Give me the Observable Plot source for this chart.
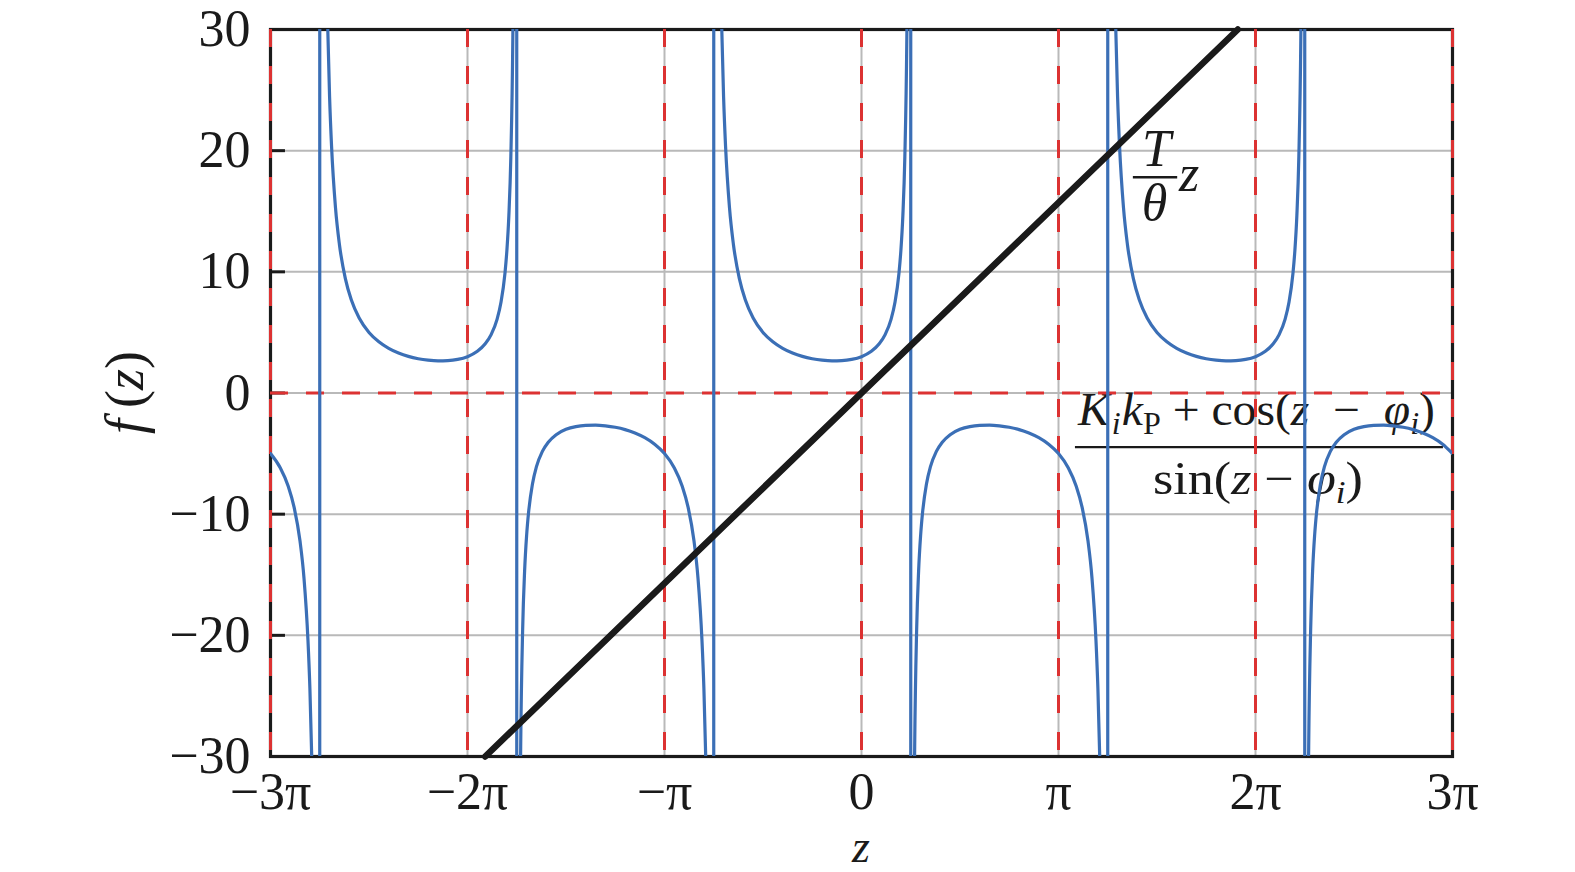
<!DOCTYPE html>
<html>
<head>
<meta charset="utf-8">
<script src="https://cdn.jsdelivr.net/npm/d3@7"></script>
<script src="https://cdn.jsdelivr.net/npm/@observablehq/plot@0.6"></script>
<style>
  html, body { margin: 0; padding: 0; background: #fff; }
  #chart svg { display: block; }
</style>
</head>
<body>
<div id="chart"></div>
<script>
// ---- data (z in units of π) ----
const xTicks = [-3, -2, -1, 0, 1, 2, 3];
const xTickLabels = ["−3π", "−2π", "−π", "0", "π", "2π", "3π"];
const yTicks = [-30, -20, -10, 0, 10, 20, 30];
const yTickLabels = ["−30", "−20", "−10", "0", "10", "20", "30"];

// blue curve f(z) (values beyond ±30 are clipped; ±2000 marks the jump at each pole)
const curveZ = [
  -3.00, -2.95, -2.91, -2.88, -2.85, -2.83, -2.81, -2.80, -2.79, -2.78, -2.77,
  -2.751, -2.749,
  -2.73, -2.72, -2.71, -2.70, -2.69, -2.67, -2.65, -2.62, -2.59, -2.55, -2.50, -2.45, -2.40, -2.35, -2.30, -2.25,
  -2.20, -2.15, -2.10, -2.05, -2.00, -1.95, -1.91, -1.88, -1.85, -1.83, -1.81, -1.80, -1.79, -1.78, -1.77, -1.765, -1.76,
  -1.751, -1.749,
  -1.74, -1.735, -1.73, -1.72, -1.71, -1.70, -1.69, -1.67, -1.65, -1.62, -1.59, -1.55, -1.50, -1.45, -1.40, -1.35,
  -1.30, -1.25, -1.20, -1.15, -1.10, -1.05, -1.00, -0.95, -0.91, -0.88, -0.85, -0.83, -0.81, -0.80, -0.79, -0.78, -0.77,
  -0.751, -0.749,
  -0.73, -0.72, -0.71, -0.70, -0.69, -0.67, -0.65, -0.62, -0.59, -0.55, -0.50, -0.45, -0.40, -0.35, -0.30, -0.25,
  -0.20, -0.15, -0.10, -0.05, 0.00, 0.05, 0.09, 0.12, 0.15, 0.17, 0.19, 0.20, 0.21, 0.22, 0.23, 0.235, 0.24,
  0.249, 0.251,
  0.26, 0.265, 0.27, 0.28, 0.29, 0.30, 0.31, 0.33, 0.35, 0.38, 0.41, 0.45, 0.50, 0.55, 0.60, 0.65,
  0.70, 0.75, 0.80, 0.85, 0.90, 0.95, 1.00, 1.05, 1.09, 1.12, 1.15, 1.17, 1.19, 1.20, 1.21, 1.22, 1.23,
  1.249, 1.251,
  1.27, 1.28, 1.29, 1.30, 1.31, 1.33, 1.35, 1.38, 1.41, 1.45, 1.50, 1.55, 1.60, 1.65, 1.70, 1.75,
  1.80, 1.85, 1.90, 1.95, 2.00, 2.05, 2.09, 2.12, 2.15, 2.17, 2.19, 2.20, 2.21, 2.22, 2.23, 2.235, 2.24,
  2.249, 2.251,
  2.26, 2.265, 2.27, 2.28, 2.29, 2.30, 2.31, 2.33, 2.35, 2.38, 2.41, 2.45, 2.50, 2.55, 2.60, 2.65,
  2.70, 2.75, 2.80, 2.85, 2.90, 2.95, 3.00
];
const curveF = [
  -5.00, -6.19, -7.69, -9.44, -12.24, -15.27, -20.35, -24.40, -30.50, -40.65, -60.97,
  -2000, 2000,
  60.97, 40.65, 30.50, 24.40, 20.35, 15.27, 12.24, 9.44, 7.69, 6.19, 5.00, 4.23, 3.69, 3.30, 3.02, 2.83,
  2.71, 2.65, 2.67, 2.77, 3.00, 3.44, 4.06, 4.82, 6.08, 7.49, 9.86, 11.78, 14.66, 19.49, 29.18, 38.87, 58.28,
  2000, -2000,
  -58.28, -38.87, -29.18, -19.49, -14.66, -11.78, -9.86, -7.49, -6.08, -4.82, -4.06, -3.44, -3.00, -2.77, -2.67, -2.65,
  -2.71, -2.83, -3.02, -3.30, -3.69, -4.23, -5.00, -6.19, -7.69, -9.44, -12.24, -15.27, -20.35, -24.40, -30.50, -40.65, -60.97,
  -2000, 2000,
  60.97, 40.65, 30.50, 24.40, 20.35, 15.27, 12.24, 9.44, 7.69, 6.19, 5.00, 4.23, 3.69, 3.30, 3.02, 2.83,
  2.71, 2.65, 2.67, 2.77, 3.00, 3.44, 4.06, 4.82, 6.08, 7.49, 9.86, 11.78, 14.66, 19.49, 29.18, 38.87, 58.28,
  2000, -2000,
  -58.28, -38.87, -29.18, -19.49, -14.66, -11.78, -9.86, -7.49, -6.08, -4.82, -4.06, -3.44, -3.00, -2.77, -2.67, -2.65,
  -2.71, -2.83, -3.02, -3.30, -3.69, -4.23, -5.00, -6.19, -7.69, -9.44, -12.24, -15.27, -20.35, -24.40, -30.50, -40.65, -60.97,
  -2000, 2000,
  60.97, 40.65, 30.50, 24.40, 20.35, 15.27, 12.24, 9.44, 7.69, 6.19, 5.00, 4.23, 3.69, 3.30, 3.02, 2.83,
  2.71, 2.65, 2.67, 2.77, 3.00, 3.44, 4.06, 4.82, 6.08, 7.49, 9.86, 11.78, 14.66, 19.49, 29.18, 38.87, 58.28,
  2000, -2000,
  -58.28, -38.87, -29.18, -19.49, -14.66, -11.78, -9.86, -7.49, -6.08, -4.82, -4.06, -3.44, -3.00, -2.77, -2.67, -2.65,
  -2.71, -2.83, -3.02, -3.30, -3.69, -4.23, -5.00
];

// black straight line (T/θ)·z
const lineZ = [-1.91, 1.91];
const lineF = [-30, 30];

// red dashed reference lines
const refZ = [-3, -2, -1, 0, 1, 2, 3];
const refF = [0];

const curve = curveZ.map((z, i) => ({z, f: curveF[i]}));
const line = lineZ.map((z, i) => ({z, f: lineF[i]}));

const FONT = '"Liberation Serif", "Times New Roman", Times, serif';
const BLUE = "#3b6fb6", RED = "#dc3232", GRID = "#b9b9b9", INK = "#1a1a1a";

function annotations(index, scales, values, dims) {
  const X = scales.x, Y = scales.y;
  const g = d3.create("svg:g").attr("font-family", FONT).attr("fill", INK).style("white-space", "pre");

  // axis titles
  g.append("text").attr("x", X(0)).attr("y", dims.height - dims.marginBottom + 106)
    .attr("text-anchor", "middle").attr("font-size", 46).attr("font-style", "italic").text("z");
  const yl = g.append("text")
    .attr("transform", `translate(${dims.marginLeft - 143},${(Y(30) + Y(-30)) / 2}) rotate(-90)`)
    .attr("text-anchor", "middle").attr("dy", "0.3em").attr("font-size", 54);
  yl.append("tspan").attr("font-style", "italic").text("f");
  yl.append("tspan").text("\u2009(");
  yl.append("tspan").attr("font-style", "italic").text("z");
  yl.append("tspan").text(")");

  // T/θ z
  g.append("text").attr("x", X(1.50)).attr("y", Y(18.67)).attr("text-anchor", "middle")
    .attr("font-size", 52).attr("font-style", "italic").text("T");
  g.append("line").attr("x1", X(1.38)).attr("x2", X(1.605)).attr("y1", Y(17.77)).attr("y2", Y(17.77))
    .attr("stroke", INK).attr("stroke-width", 2.5);
  g.append("text").attr("x", X(1.49)).attr("y", Y(14.2)).attr("text-anchor", "middle")
    .attr("font-size", 52).attr("font-style", "italic").text("θ");
  g.append("text").attr("x", X(1.665)).attr("y", Y(16.6))
    .attr("font-size", 52).attr("font-style", "italic").text("z");

  // big fraction
  g.append("line").attr("x1", X(1.086)).attr("x2", X(2.954)).attr("y1", Y(-4.5)).attr("y2", Y(-4.5))
    .attr("stroke", INK).attr("stroke-width", 2.3);
  const num = g.append("text").attr("class", "fit").attr("x", X(1.096)).attr("y", Y(-2.69))
    .attr("data-x0", X(1.096)).attr("data-x1", X(2.914)).attr("font-size", 46);
  num.append("tspan").attr("font-style", "italic").text("K");
  num.append("tspan").attr("font-style", "italic").attr("font-size", 31).attr("dy", 9).attr("dx", 2).text("i");
  num.append("tspan").attr("font-style", "italic").attr("dy", -9).attr("dx", 1).text("k");
  num.append("tspan").attr("font-size", 31).attr("dy", 9).text("P");
  num.append("tspan").attr("dy", -9).text(" + cos(");
  num.append("tspan").attr("font-style", "italic").text("z");
  num.append("tspan").text("  −  ");
  num.append("tspan").attr("font-style", "italic").text("φ");
  num.append("tspan").attr("font-style", "italic").attr("font-size", 31).attr("dy", 9).text("i");
  num.append("tspan").attr("dy", -9).text(")");

  const den = g.append("text").attr("class", "fit").attr("x", X(1.482)).attr("y", Y(-8.37))
    .attr("data-x0", X(1.482)).attr("data-x1", X(2.548)).attr("font-size", 46);
  den.append("tspan").text("sin(");
  den.append("tspan").attr("font-style", "italic").text("z");
  den.append("tspan").text(" − ");
  den.append("tspan").attr("font-style", "italic").text("φ");
  den.append("tspan").attr("font-style", "italic").attr("font-size", 31).attr("dy", 9).text("i");
  den.append("tspan").attr("dy", -9).text(")");

  return g.node();
}

const plot = Plot.plot({
  width: 1575,
  height: 872,
  marginLeft: 270,
  marginRight: 123,
  marginTop: 29,
  marginBottom: 116,
  style: {fontFamily: FONT, fontSize: "52px", color: INK, background: "#fff", overflow: "visible"},
  x: {domain: [-3, 3], ticks: xTicks, tickFormat: d => xTickLabels[xTicks.indexOf(d)], tickSize: 0, tickPadding: 16, label: null},
  y: {domain: [-30, 30], ticks: yTicks, tickFormat: d => yTickLabels[yTicks.indexOf(d)], tickSize: 0, tickPadding: 20, label: null},
  marks: [
    Plot.ruleY(yTicks, {stroke: GRID, strokeWidth: 2}),
    Plot.ruleX(xTicks, {stroke: GRID, strokeWidth: 2}),
    Plot.ruleY(yTicks, {x1: -3, x2: -2.924, stroke: INK, strokeWidth: 3}),
    Plot.frame({stroke: INK, strokeWidth: 3.2}),
    annotations,
    Plot.ruleX(refZ, {stroke: RED, strokeWidth: 3, strokeDasharray: "18,19"}),
    Plot.ruleY(refF, {stroke: RED, strokeWidth: 3, strokeDasharray: "18,18"}),
    Plot.line(curve, {x: "z", y: "f", stroke: BLUE, strokeWidth: 3.2, curve: "monotone-x", clip: true}),
    Plot.line(line, {x: "z", y: "f", stroke: INK, strokeWidth: 6.5})
  ]
});

document.getElementById("chart").appendChild(plot);

// stretch the fraction texts horizontally to the measured widths
d3.select(plot).selectAll("text.fit").each(function() {
  const x0 = +this.getAttribute("data-x0"), x1 = +this.getAttribute("data-x1");
  const b = this.getBBox();
  const k = (x1 - x0) / b.width;
  this.setAttribute("transform", `translate(${x0},0) scale(${k},1) translate(${-b.x},0)`);
});
</script>
</body>
</html>
